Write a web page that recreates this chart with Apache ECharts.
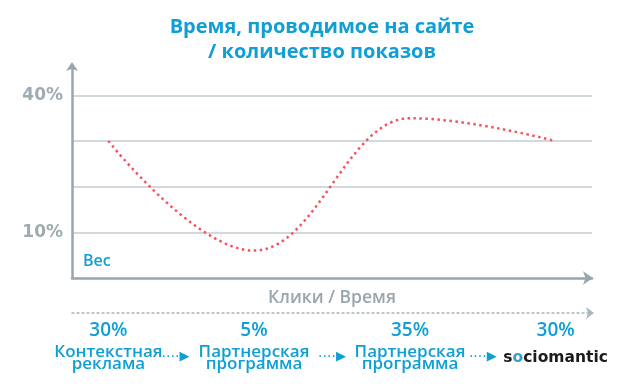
<!DOCTYPE html>
<html>
<head>
<meta charset="utf-8">
<script src="https://cdn.jsdelivr.net/npm/echarts@6/dist/echarts.min.js"></script>
<style>html,body{margin:0;padding:0;background:#fff}#c{width:644px;height:392px}</style>
</head>
<body>
<div id="c"></div>
<script>
const xVals = [7, 35, 65, 93];
const yVals = [30, 6, 35, 30];
const pctLabels = ['30%', '5%', '35%', '30%'];
const stepLabels = ['Контекстная\nреклама', 'Партнерская\nпрограмма', 'Партнерская\nпрограмма', 'sociomantic'];
const arrowVals = [19.9, 50.0, 79.0];
const yTickLabels = [10, 40];

const BLUE = '#0f9fd5';
const GRAY = '#98a6ad';
const TFONT = 'Open Sans';
const FONT = 'DejaVu Sans';

const chart = echarts.init(document.getElementById('c'), null, {renderer: 'canvas'});
chart.setOption({
  animation: false,
  title: {
    text: 'Время, проводимое на сайте\n/ количество показов',
    left: 'center', top: 10,
    textStyle: {fontSize: 20, fontWeight: 'bold', color: BLUE, lineHeight: 25, fontFamily: TFONT}
  },
  grid: {left: 72, right: 52, top: 68, bottom: 114, outerBoundsMode: 'none', containLabel: false},
  xAxis: [{
    type: 'value', min: 0, max: 100,
    axisLine: {show: true, lineStyle: {color: GRAY, width: 2.5}, symbol: ['none', 'arrow'], symbolSize: [10, 10], symbolOffset: [0, 1]},
    axisTick: {show: false},
    splitLine: {show: false},
    axisLabel: {
      customValues: xVals,
      margin: 38,
      formatter: function (v) {
        const i = xVals.indexOf(v);
        if (i < 0) return '';
        const parts = stepLabels[i].split('\n');
        if (stepLabels[i] === 'sociomantic') {
          return '{p|' + pctLabels[i] + '}\n{lg|s}{lo|o}{lg|ciomantic}';
        }
        return '{p|' + pctLabels[i] + '}\n' + parts.map(s => '{n|' + s + '}').join('\n');
      },
      rich: {
        p: {fontSize: 19, color: BLUE, lineHeight: 30, fontFamily: TFONT, fontWeight: 600},
        n: {fontSize: 17, color: BLUE, lineHeight: 12, fontFamily: TFONT, fontWeight: 600},
        lg: {fontSize: 15.5, color: '#1b1b1b', lineHeight: 24, fontFamily: FONT, fontWeight: 'bold'},
        lo: {fontSize: 15.5, color: '#3a9cc8', lineHeight: 24, fontFamily: FONT, fontWeight: 'bold'}
      }
    }
  }, {
    type: 'value', min: 0, max: 100, position: 'bottom', offset: 35,
    axisLine: {show: true, lineStyle: {color: '#aab7bd', width: 1.5, type: [2, 3]}, symbol: ['none', 'arrow'], symbolSize: [9, 8], symbolOffset: [0, 2]},
    axisTick: {show: false},
    splitLine: {show: false},
    axisLabel: {
      customValues: arrowVals,
      margin: 37,
      formatter: function () { return '{d|····}{a|▶}'; },
      rich: {
        d: {fontSize: 14, color: BLUE, fontFamily: FONT},
        a: {fontSize: 13, color: BLUE, fontFamily: FONT}
      }
    }
  }, {
    type: 'value', min: 0, max: 100, position: 'bottom', offset: 0,
    axisLine: {show: false}, axisTick: {show: false}, axisLabel: {show: false}, splitLine: {show: false},
    name: 'Клики / Время', nameLocation: 'middle', nameGap: 11,
    nameTextStyle: {color: GRAY, fontSize: 17.5, fontWeight: 600, fontFamily: TFONT}
  }],
  yAxis: {
    type: 'value', min: 0, max: 46, interval: 10,
    axisLine: {show: true, lineStyle: {color: GRAY, width: 2.5}, symbol: ['none', 'arrow'], symbolSize: [9, 9], symbolOffset: [0, 6]},
    axisTick: {show: false},
    splitLine: {show: true, showMinLine: false, showMaxLine: false, lineStyle: {color: '#c3ccd1', width: 1.5}},
    axisLabel: {
      margin: 9, fontSize: 17, color: '#9eabb1', fontFamily: FONT, fontWeight: 'bold',
      formatter: function (v) { return yTickLabels.indexOf(v) >= 0 ? v + '%' : ''; }
    }
  },
  graphic: [{
    type: 'text', left: 83, top: 253,
    style: {text: 'Вес', fill: BLUE, fontSize: 16, fontFamily: TFONT, fontWeight: 600}
  }],
  series: [{
    type: 'line',
    data: xVals.map((x, i) => [x, yVals[i]]),
    smooth: 0.4, smoothMonotone: 'x',
    symbol: 'none',
    lineStyle: {color: '#f4535f', width: 2.5, type: [2.5, 3.5]}
  }]
});
</script>
</body>
</html>
